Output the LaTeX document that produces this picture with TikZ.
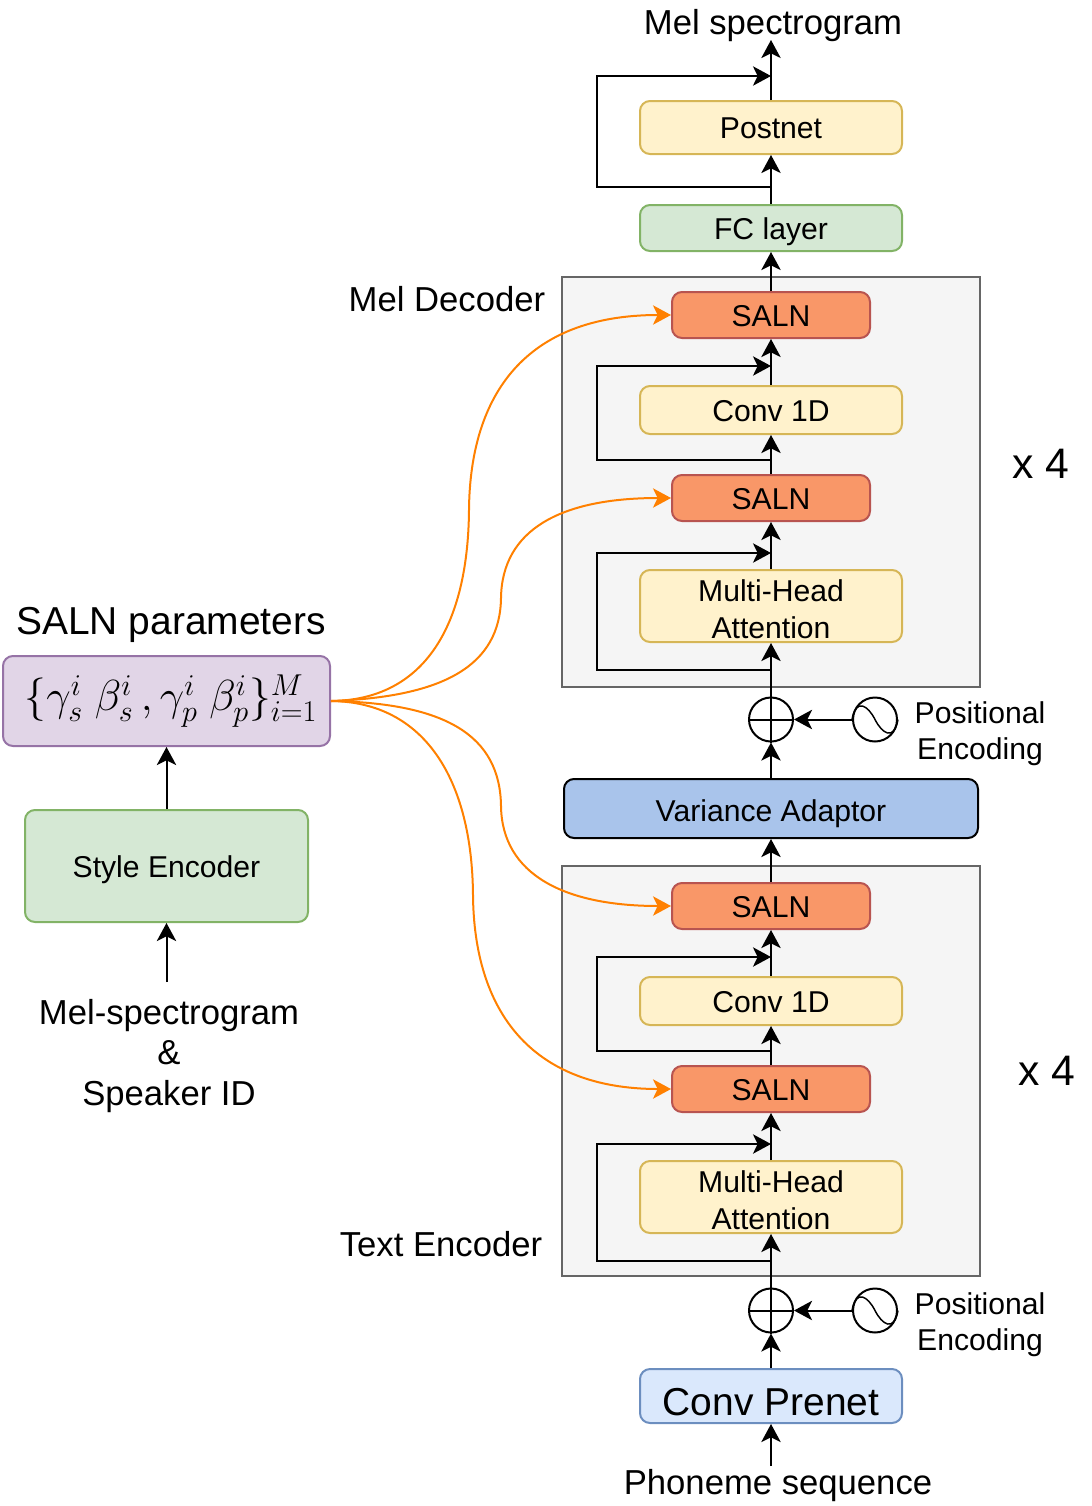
\documentclass[tikz,border=0pt]{standalone}
\usepackage[no-math]{fontspec}
\setmainfont{Liberation Sans}
\usepackage{amsmath}
\usepackage{graphicx}
\usepackage{tikz}
\usetikzlibrary{arrows.meta}

\definecolor{salnfill}{HTML}{F99768}
\definecolor{salnline}{HTML}{B85450}
\definecolor{yellowfill}{HTML}{FFF2CC}
\definecolor{yellowline}{HTML}{D6B656}
\definecolor{greenfill}{HTML}{D5E8D4}
\definecolor{greenline}{HTML}{82B366}
\definecolor{purplefill}{HTML}{E1D5E7}
\definecolor{purpleline}{HTML}{9673A6}
\definecolor{bluefill}{HTML}{A9C4EB}
\definecolor{prenetfill}{HTML}{DAE8FC}
\definecolor{prenetline}{HTML}{6C8EBF}
\definecolor{curveorange}{HTML}{FF8000}

\def\px{.75pt}
% same height for every one-line label, so that the capitals sit in the middle
\newcommand{\oneline}[2][-1.2pt]{\raisebox{#1}[.85em][.19em]{#2}}

\begin{document}
\begin{tikzpicture}[x=.75pt,y=-.75pt,line width=1.5pt,
  every node/.style={inner sep=0pt,align=center},
  box/.style={draw,rounded corners=7.5pt,font=\fontsize{22.6}{27.75}\selectfont},
  wide/.style={box,minimum width=262*\px},
  yellowbox/.style={wide,fill=yellowfill,draw=yellowline},
  greenbox/.style={wide,fill=greenfill,draw=greenline},
  salnbox/.style={box,fill=salnfill,draw=salnline,minimum width=198*\px,minimum height=46*\px},
  stack/.style={fill=black!4,draw=black!60,minimum width=418*\px,minimum height=410*\px},
  ring/.style={draw,circle,minimum size=44*\px},
  flow/.style={-{Stealth[length=13.5pt,width=14.5pt,inset=3.5pt]}},
  curve/.style={flow,curveorange},
  txtsmall/.style={font=\fontsize{22.6}{27}\selectfont},
  txtmid/.style={font=\fontsize{26}{30.4}\selectfont},
  txtbig/.style={font=\fontsize{29.2}{34}\selectfont}]

  \useasboundingbox (0,0) rectangle (1092,1506);

  % both stacks are the same, the encoder sits 591 lower
  \foreach \n/\y/\s in {dec/0/482,enc/591/1071} {
    \node[stack] (stack\n) at (771,\s) {};
    \node[salnbox] (salna\n) at (771,{315+\y}) {\oneline{SALN}};
    \node[yellowbox,minimum height=48*\px] (conv\n) at (771,{410+\y}) {\oneline{Conv 1D}};
    \node[salnbox] (salnb\n) at (771,{498+\y}) {\oneline{SALN}};
    \node[yellowbox,minimum height=72*\px] (mha\n) at (771,{606+\y}) {\rule{0pt}{20.5pt}Multi-Head\\Attention};
    \node[ring] (plus\n) at (771,{719.5+\y}) {};
    \node[ring] (sine\n) at (875,{719.5+\y}) {};
    \node[txtsmall] (pos\n) at (980,{734+\y}) {Positional\\[0pt]Encoding};

    \coordinate (skipa\n) at (771,{670+\y});
    \coordinate (skipb\n) at (771,{553+\y});
    \coordinate (skipc\n) at (771,{460+\y});
    \coordinate (skipd\n) at (771,{366+\y});

    % ring symbols
    \draw (plus\n.north) -- (plus\n.south);
    \draw (plus\n.west) -- (plus\n.east);
    \draw[line width=1.1pt] (sine\n.west) .. controls +(4,-22) and +(-7,-14) .. (sine\n.center)
      .. controls +(7,14) and +(-4,22) .. (sine\n.east);

    \draw[flow] (plus\n.north) -- (mha\n.south);
    \draw[flow] (sine\n.west) -- (plus\n.east);
    \draw[flow] (mha\n.north) -- (salnb\n.south);
    \draw[flow] (salnb\n.north) -- (conv\n.south);
    \draw[flow] (conv\n.north) -- (salna\n.south);

    % residuals
    \draw[flow] (skipa\n) -- (597,{670+\y}) -- (597,{553+\y}) -- (skipb\n);
    \draw[flow] (skipc\n) -- (597,{460+\y}) -- (597,{366+\y}) -- (skipd\n);
  }

  \node[greenbox,minimum height=46*\px] (fc) at (771,228) {\oneline{FC layer}};
  \node[yellowbox,minimum height=53*\px] (postnet) at (771,127.5) {\oneline[-.5pt]{Postnet}};
  \node[box,fill=bluefill,minimum width=414*\px,minimum height=59*\px] (variance) at (771,808.5) {\oneline[-2pt]{Variance Adaptor}};
  \node[box,fill=prenetfill,draw=prenetline,minimum width=262*\px,minimum height=54*\px,txtbig] (prenet) at (771,1396) {\oneline[-5pt]{Conv Prenet}};

  \node[txtmid] (melout) at (773,26) {Mel spectrogram};
  \node[txtmid] (phoneme) at (778,1486) {Phoneme sequence};
  \node[txtmid] (meldec) at (447,299) {Mel Decoder};
  \node[txtmid] (textenc) at (441,1244) {Text Encoder};
  \node[font=\fontsize{32}{36}\selectfont] (xdec) at (1041,464) {x 4};
  \node[font=\fontsize{32}{36}\selectfont] (xenc) at (1047,1071) {x 4};

  \node[txtbig] (salnpar) at (171,625) {SALN parameters};
  \node[box,fill=purplefill,draw=purpleline,minimum width=327*\px,minimum height=90*\px,font=\fontsize{24}{28}\selectfont] (params) at (166.5,701) {\hspace*{6.75pt}\scalebox{1.31}{$\{\gamma_s^i\ \beta_s^i\,,\gamma_p^i\ \beta_p^i\}_{i=1}^M$}};
  \node[greenbox,minimum width=283*\px,minimum height=112*\px] (style) at (166.5,866) {\oneline{Style Encoder}};
  \node[txtmid] (melin) at (169,1056) {Mel-spectrogram\\\&\\Speaker ID};
  \coordinate (melintop) at (166.5,982);

  % main line
  \coordinate (phonemetop) at (771,1466);
  \coordinate (meltip) at (771,40);
  \coordinate (skipe) at (771,187);
  \coordinate (skipf) at (771,76);

  \draw[flow] (phonemetop) -- (prenet.south);
  \draw[flow] (prenet.north) -- (plusenc.south);
  \draw[flow] (salnaenc.north) -- (variance.south);
  \draw[flow] (variance.north) -- (plusdec.south);
  \draw[flow] (salnadec.north) -- (fc.south);
  \draw[flow] (fc.north) -- (postnet.south);
  \draw[flow] (postnet.north) -- (meltip);
  \draw[flow] (skipe) -- (597,187) -- (597,76) -- (skipf);

  \draw[flow] (style.north) -- (params.south);
  \draw[flow] (melintop) -- (style.south);

  % SALN parameters go to every SALN block
  \draw[curve] (params.east) .. controls (425,700) and (468,625) .. (469,510)
    .. controls (470,395) and (525,315) .. (salnadec.west);
  \draw[curve] (params.east) .. controls (445,697) and (500,665) .. (501,598)
    .. controls (502,530) and (560,498) .. (salnbdec.west);
  \draw[curve] (params.east) .. controls (445,703) and (500,735) .. (501,806)
    .. controls (502,875) and (565,906) .. (salnaenc.west);
  \draw[curve] (params.east) .. controls (425,702) and (472,780) .. (473,895)
    .. controls (474,1010) and (530,1089) .. (salnbenc.west);
\end{tikzpicture}
\end{document}
